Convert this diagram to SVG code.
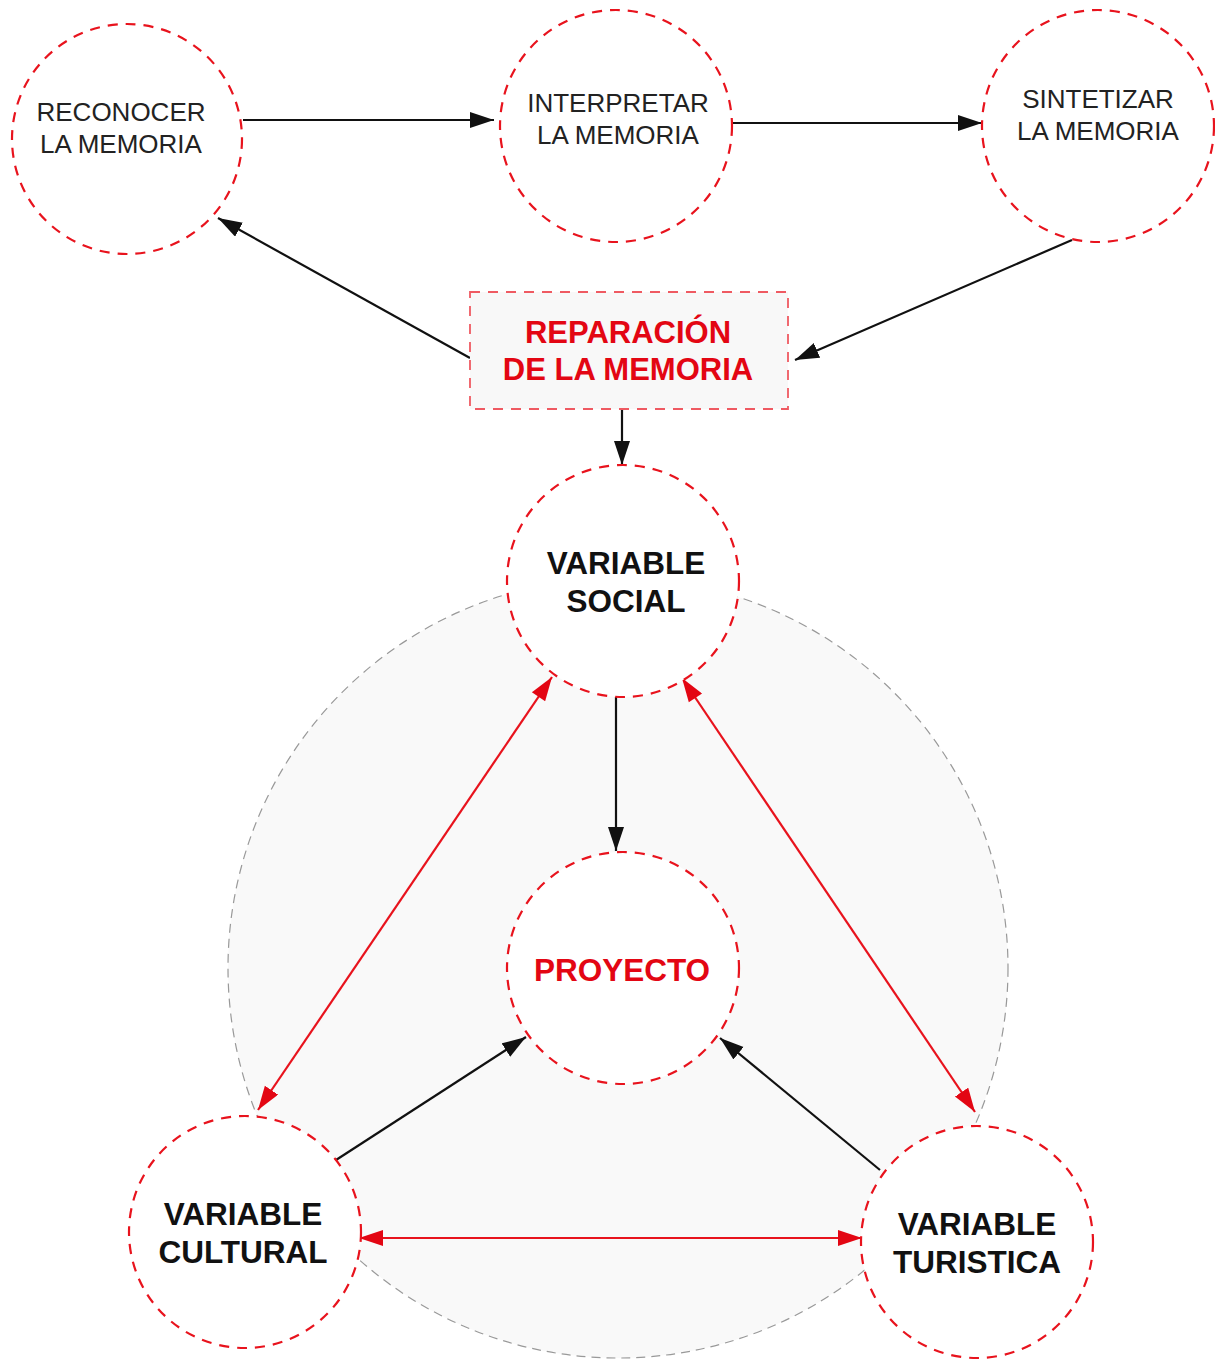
<svg xmlns="http://www.w3.org/2000/svg" width="1215" height="1361" viewBox="0 0 1215 1361">
<style>
.node{fill:#ffffff;stroke:#e8131d;stroke-width:2.2;stroke-dasharray:10 8}
.rect{fill:#f8f8f8;stroke:#ef5a62;stroke-width:1.8;stroke-dasharray:10 8}
.bg{fill:#f9f9f9;stroke:#999;stroke-width:1.2;stroke-dasharray:9 6}
.t{font-family:"Liberation Sans",Arial,sans-serif;font-size:26px;fill:#222;text-anchor:middle}
.b{font-family:"Liberation Sans",Arial,sans-serif;font-size:31.5px;font-weight:bold;fill:#111;text-anchor:middle}
.r{fill:#e30613}
.k{stroke:#111;stroke-width:2.2;fill:none}
.red{stroke:#e8131d;stroke-width:2.2;fill:none}
</style>
<defs>
<marker id="ak" markerUnits="userSpaceOnUse" markerWidth="26" markerHeight="18" refX="24" refY="8" orient="auto">
<path d="M0,0 L24,8 L0,16 Z" fill="#111"/>
</marker>
<marker id="ar" markerUnits="userSpaceOnUse" markerWidth="26" markerHeight="18" refX="24" refY="8" orient="auto">
<path d="M0,0 L24,8 L0,16 Z" fill="#e30613"/>
</marker>
<marker id="ars" markerUnits="userSpaceOnUse" markerWidth="26" markerHeight="18" refX="0" refY="8" orient="auto">
<path d="M24,0 L0,8 L24,16 Z" fill="#e30613"/>
</marker>
</defs>
<rect width="1215" height="1361" fill="#ffffff"/>
<circle id="background" class="bg" cx="618" cy="968" r="390"/>
<g id="connectors">
<line class="k" x1="243" y1="120" x2="494" y2="120" marker-end="url(#ak)"/>
<line class="k" x1="732" y1="123" x2="982" y2="123" marker-end="url(#ak)"/>
<line class="k" x1="1072" y1="240" x2="795" y2="360" marker-end="url(#ak)"/>
<line class="k" x1="470" y1="358" x2="218" y2="218" marker-end="url(#ak)"/>
<line class="k" x1="622" y1="410" x2="622" y2="465" marker-end="url(#ak)"/>
<line class="k" x1="616" y1="697" x2="616" y2="851" marker-end="url(#ak)"/>
<line class="k" x1="336" y1="1160" x2="526" y2="1037" marker-end="url(#ak)"/>
<line class="k" x1="880" y1="1170" x2="720" y2="1038" marker-end="url(#ak)"/>
<line class="red" x1="552" y1="677" x2="258" y2="1110" marker-start="url(#ars)" marker-end="url(#ar)"/>
<line class="red" x1="682" y1="678" x2="975" y2="1112" marker-start="url(#ars)" marker-end="url(#ar)"/>
<line class="red" x1="359" y1="1238" x2="862" y2="1238" marker-start="url(#ars)" marker-end="url(#ar)"/>
</g>
<g id="reconocer">
<circle class="node" cx="127" cy="139" r="115"/>
<text class="t" x="121" y="121">RECONOCER</text>
<text class="t" x="121" y="153">LA MEMORIA</text>
</g>
<g id="interpretar">
<circle class="node" cx="616" cy="126" r="116"/>
<text class="t" x="618" y="112">INTERPRETAR</text>
<text class="t" x="618" y="144">LA MEMORIA</text>
</g>
<g id="sintetizar">
<circle class="node" cx="1098" cy="126" r="116"/>
<text class="t" x="1098" y="108">SINTETIZAR</text>
<text class="t" x="1098" y="140">LA MEMORIA</text>
</g>
<g id="reparacion">
<rect class="rect" x="470" y="292" width="318" height="117"/>
<text class="b r" x="628" y="343" style="font-size:31px">REPARACIÓN</text>
<text class="b r" x="628" y="380" style="font-size:31px">DE LA MEMORIA</text>
</g>
<g id="social">
<circle class="node" cx="623" cy="581" r="116"/>
<text class="b" x="626" y="574">VARIABLE</text>
<text class="b" x="626" y="612">SOCIAL</text>
</g>
<g id="proyecto">
<circle class="node" cx="623" cy="968" r="116"/>
<text class="b r" x="622" y="981">PROYECTO</text>
</g>
<g id="cultural">
<circle class="node" cx="245" cy="1232" r="116"/>
<text class="b" x="243" y="1225">VARIABLE</text>
<text class="b" x="243" y="1263">CULTURAL</text>
</g>
<g id="turistica">
<circle class="node" cx="977" cy="1242" r="116"/>
<text class="b" x="977" y="1235">VARIABLE</text>
<text class="b" x="977" y="1273">TURISTICA</text>
</g>
</svg>
